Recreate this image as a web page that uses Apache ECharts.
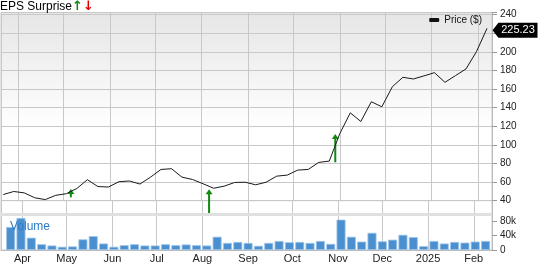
<!DOCTYPE html>
<html><head><meta charset="utf-8">
<script src="https://cdn.jsdelivr.net/npm/echarts@6/dist/echarts.min.js"></script>
<style>html,body{margin:0;padding:0;background:#fff}#c{width:538px;height:264px}</style>
</head><body><div id="c"></div>
<script>
// ---- data ----
const months = ['Jan','Feb','Mar','Apr','May','Jun','Jul','Aug','Sep','Oct','Nov','Dec'];
const prices = [46.5, 49.8, 48.3, 43.0, 41.1, 45.7, 47.4, 53.0, 62.5, 55.1, 54.6, 60.3, 61.1, 57.8, 65.2, 73.5,
  74.3, 65.2, 62.7, 58.1, 53.3, 55.5, 59.5, 59.8, 57.0, 59.8, 66.3, 67.4, 72.8, 73.5, 81.1, 82.5,
  112.0, 134.4, 125.1, 146.3, 140.9, 162.5, 172.6, 170.8, 174.1, 177.6, 167.2, 174.4, 181.6, 200.3, 225.23];
const volumesK = [63.6, 88.6, 34, 16, 12.5, 9, 10, 29.5, 38.4, 18, 9, 13.4, 16, 12.5, 12.5, 16,
  13.4, 15.3, 13.4, 12.5, 36.7, 19.6, 22.3, 19.6, 11.6, 19.6, 25, 21.5, 22.3, 19.6, 25, 17,
  84, 36.7, 23.3, 47.5, 24, 28.6, 42, 35.8, 10.7, 25, 18, 22.3, 20.5, 23.3, 25];
const epsDates = [[2024, 4, 6], [2024, 7, 6], [2024, 9, 29]];
const epsTip = [52.5, 52.2, 111.6];
const epsBase = [43.5, 23.4, 81.2];
const volTicks = [0, 20000, 40000, 60000, 80000];

function weekly(y, m, d, n) { const out = []; for (let i = 0; i < n; i++) out.push(new Date(y, m, d + 7 * i).getTime()); return out; }
const priceDates = weekly(2024, 2, 22, prices.length);
const volumeDates = weekly(2024, 2, 24, volumesK.length);
const xMin = new Date(2024, 2, 20, 12, 12).getTime();
const xMax = new Date(2025, 1, 10, 7, 30).getTime();

const FONT = 'Liberation Sans, Arial, sans-serif';
const grid = '#c8c8c8';
const chart = echarts.init(document.getElementById('c'), null, {renderer: 'canvas'});

const xCommon = {
  type: 'time', min: xMin, max: xMax, splitNumber: 11,
  minInterval: 28 * 86400000, maxInterval: 31 * 86400000,
  splitLine: {show: true, lineStyle: {color: grid, width: 1}},
};

chart.setOption({
  animation: false,
  textStyle: {fontFamily: FONT},
  title: [
    {text: 'EPS Surprise{u|↑}{d|↓}', left: 0, top: 0, padding: 0, z: 10,
     textStyle: {fontSize: 12, fontWeight: 'normal', color: '#000', fontFamily: FONT,
       rich: {u: {color: '#118a11', fontSize: 13, fontWeight: 'bold', fontFamily: 'DejaVu Sans', padding: [0, 0, 0, 0]},
              d: {color: '#e00000', fontSize: 13, fontWeight: 'bold', fontFamily: 'DejaVu Sans', padding: [0, 0, 0, 0]}}}},
    {text: 'Volume', left: 10, top: 221, padding: 0, z: 10,
     textStyle: {fontSize: 12, fontWeight: 'normal', color: '#2b7bc6', fontFamily: FONT}}
  ],
  legend: {
    data: ['Price ($)'], right: 56, top: 15, padding: 0, icon: 'roundRect',
    itemWidth: 10, itemHeight: 4, itemGap: 5,
    textStyle: {fontSize: 10, color: '#111', fontFamily: FONT}
  },
  grid: [
    {left: 1, right: 46, top: 12.5, height: 188.1, show: true, borderColor: '#c8c8c8', borderWidth: 1,
     backgroundColor: new echarts.graphic.LinearGradient(0, 0, 0, 1, [
       {offset: 0, color: '#e6e6e6'}, {offset: 0.62, color: '#ffffff'}, {offset: 1, color: '#ffffff'}])},
    {left: 1, right: 46, top: 200.6, bottom: 12, show: true, borderColor: '#c8c8c8', borderWidth: 1}
  ],
  xAxis: [
    Object.assign({}, xCommon, {gridIndex: 0, axisLabel: {show: false}, axisTick: {show: false}, axisLine: {show: false}}),
    Object.assign({}, xCommon, {gridIndex: 1, axisTick: {show: false},
      axisLine: {show: true, lineStyle: {color: '#bbb'}},
      axisLabel: {margin: 3, fontSize: 11, color: '#222', fontFamily: FONT,
        formatter: function (v) { const d = new Date(v); return d.getMonth() === 0 ? String(d.getFullYear()) : months[d.getMonth()]; }}})
  ],
  yAxis: [
    {type: 'value', gridIndex: 0, position: 'right', min: 40, max: 242.3, interval: 20,
     axisLine: {show: true, lineStyle: {color: '#bbb'}},
     axisTick: {show: true, length: 5, lineStyle: {color: '#999'}},
     splitLine: {show: true, lineStyle: {color: grid}},
     axisLabel: {margin: 8, fontSize: 10, color: '#222', fontFamily: FONT,
       formatter: function (v) { return Math.abs(v % 20) < 1e-6 ? String(v) : ''; }}},
    {type: 'value', gridIndex: 1, position: 'right', min: 0, max: 136600, interval: 20000,
     axisLine: {show: true, lineStyle: {color: '#bbb'}},
     axisTick: {show: true, length: 5, lineStyle: {color: '#999'}, customValues: volTicks},
     splitLine: {show: false},
     axisLabel: {margin: 8, fontSize: 10, lineHeight: 7, color: '#222', fontFamily: FONT, customValues: volTicks,
       hideOverlap: false, showMinLabel: true, showMaxLabel: true,
       formatter: function (v) { return v > 80000 ? '' : (v === 0 ? '0' : (v / 1000) + 'k'); }}}
  ],
  series: [
    {name: 'Price ($)', type: 'line', xAxisIndex: 0, yAxisIndex: 0, showSymbol: false, clip: false,
     data: priceDates.map((d, i) => [d, prices[i]]),
     itemStyle: {color: '#111'}, lineStyle: {color: '#1a1a1a', width: 1},
     markPoint: {
       symbol: 'path://M0,7.5 L6,0 L46,0 L46,15 L6,15 Z', symbolSize: [45, 15], symbolOffset: [28, 2],
       itemStyle: {color: '#000'},
       label: {show: true, color: '#fff', fontSize: 11, fontFamily: FONT, offset: [3, 0], formatter: '{c}'},
       data: [{coord: [priceDates[prices.length - 1], prices[prices.length - 1]], value: prices[prices.length - 1].toFixed(2)}]
     }},
    {name: 'EPS', type: 'custom', xAxisIndex: 0, yAxisIndex: 0,
     data: epsDates.map((d, i) => [new Date(d[0], d[1], d[2]).getTime(), epsTip[i], epsBase[i]]),
     encode: {x: 0, y: 1},
     renderItem: function (params, api) {
       const t = api.coord([api.value(0), api.value(1)]);
       const b = api.coord([api.value(0), api.value(2)]);
       const hw = 3.5, hh = 5, c = '#118a11';
       return {type: 'group', children: [
         {type: 'line', shape: {x1: t[0], y1: t[1] + hh - 1, x2: b[0], y2: b[1]}, style: {stroke: c, lineWidth: 2}},
         {type: 'polygon', shape: {points: [[t[0], t[1]], [t[0] - hw, t[1] + hh], [t[0] + hw, t[1] + hh]]}, style: {fill: c}}
       ]};
     }},
    {name: 'Volume', type: 'bar', xAxisIndex: 1, yAxisIndex: 1, barWidth: 9, clip: false,
     data: volumeDates.map((d, i) => [d, volumesK[i] * 1000]),
     itemStyle: {color: '#4a90d0', borderColor: '#9fc5e8', borderWidth: 0.8},
     markLine: {silent: true, symbol: ['none', 'none'], label: {show: false},
       lineStyle: {color: '#e0e0e0', width: 3, type: 'solid'}, data: [{yAxis: 100000}]}}
  ]
});
</script></body></html>
